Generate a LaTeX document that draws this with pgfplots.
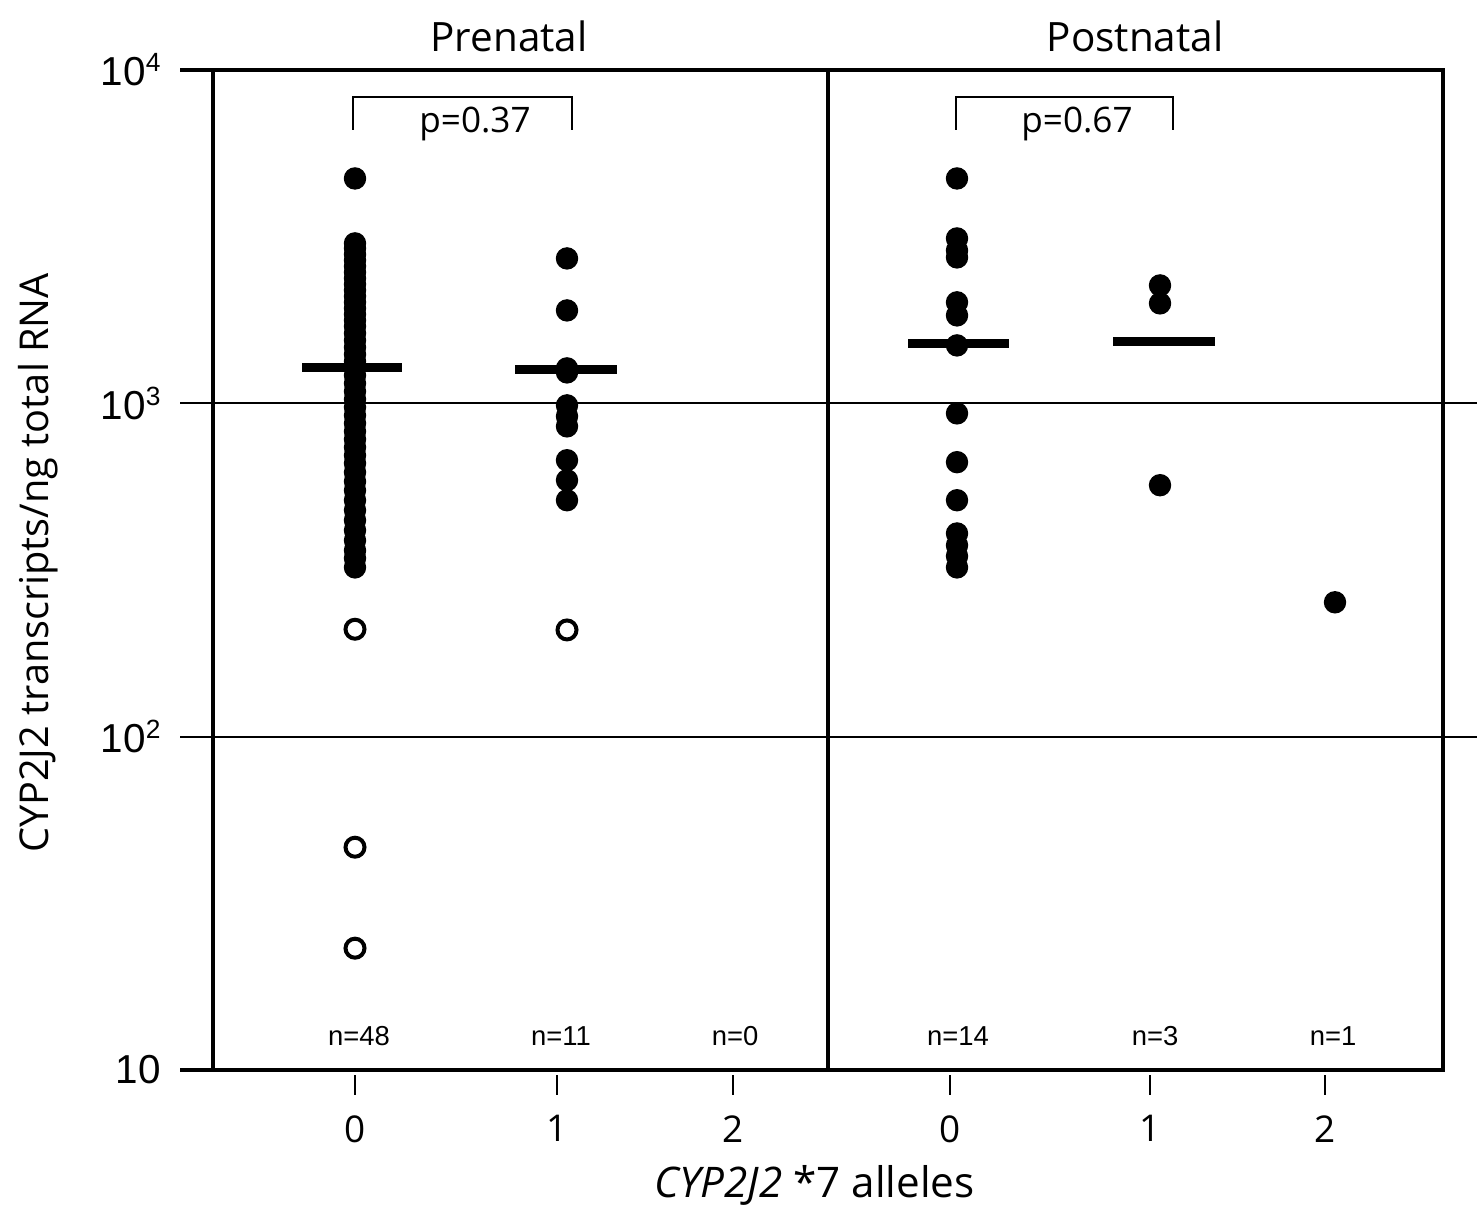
\documentclass[border=0pt]{standalone}
\usepackage{fontspec}
\setmainfont{Open Sans}
\newfontfamily\arial{Liberation Sans}
\usepackage{pgfplots}
\pgfplotsset{compat=1.18}

\newcommand\sups[1]{\raisebox{4pt}{\fontsize{7.5}{8}\selectfont #1}}

\begin{document}
\begin{tikzpicture}[nlab/.style={anchor=base, font=\arial\fontsize{7.8}{9}\selectfont}]
\useasboundingbox (-21.3mm,-14.2mm) rectangle (127.1mm,107mm);
\begin{axis}[
    at={(0,0)}, anchor=south west,
    scale only axis, width=123mm, height=100mm,
    xmin=213, xmax=1443,
    ymode=log, ymin=10, ymax=10000,
    yminorticks=false,
    axis line style={line width=1.15pt},
    clip=false,
    xtick={355,557,733,950,1150,1325},
    xticklabels={0,1,2,0,1,2},
    ytick={10,100,1000,10000},
    yticklabels={10, 10\sups{2}, 10\sups{3}, 10\sups{4}},
    tick align=outside,
    major tick length=3.3mm,
    tick style={draw=none},
    xticklabel style={font=\fontsize{10.5}{12}\selectfont},
    yticklabel style={font=\arial\fontsize{11.5}{13}\selectfont, xshift=-0.7mm},
    xlabel={\textit{CYP2J2} *7 alleles},
    xlabel style={font=\fontsize{12}{14}\selectfont, at={(axis description cs:0.489,0)}, anchor=center, yshift=-11.5mm},
    ylabel={CYP2J2 transcripts/ng total RNA},
    ylabel style={font=\fontsize{11.3}{13}\selectfont, at={(axis description cs:0,0.507)}, anchor=center, yshift=17.5mm},
]
% mean bars
\addplot[line width=0.85mm, black] coordinates {(302,1282) (402,1282)};
\addplot[line width=0.85mm, black] coordinates {(515,1265) (617,1265)};
\addplot[line width=0.85mm, black] coordinates {(908,1513) (1009,1513)};
\addplot[line width=0.85mm, black] coordinates {(1113,1534) (1215,1534)};

% prenatal, 0 alleles
\addplot[only marks, mark=*, mark size=1.05mm, black] coordinates {
    (355,4727) (355,3019) (355,2916) (355,2797) (355,2685) (355,2576)
    (355,2471) (355,2371) (355,2275) (355,2183) (355,2094) (355,2009)
    (355,1927) (355,1849) (355,1774) (355,1702) (355,1622) (355,1545)
    (355,1472) (355,1402) (355,1336) (355,1273) (355,1213) (355,1148)
    (355,1086) (355,1028) (355,973) (355,920) (355,871) (355,824)
    (355,780) (355,738) (355,698) (355,661) (355,621) (355,583)
    (355,548) (355,512) (355,478) (355,446) (355,416) (355,388)
    (355,362) (355,343) (355,322)
};
% prenatal, 1 allele
\addplot[only marks, mark=*, mark size=1.05mm, black] coordinates {
    (567,2721) (567,1900) (567,1273) (567,1238) (567,986)
    (567,914) (567,853) (567,675) (567,588) (567,512)
};
% postnatal, 0 alleles
\addplot[only marks, mark=*, mark size=1.05mm, black] coordinates {
    (957,4727) (957,3124) (957,2876) (957,2740) (957,2009) (957,1836)
    (957,1492) (957,933) (957,666) (957,512) (957,407) (957,375)
    (957,348) (957,322)
};
% postnatal, 1 and 2 alleles
\addplot[only marks, mark=*, mark size=1.05mm, black] coordinates {
    (1160,2258) (1160,1995) (1160,568) (1335,253)
};
% below quantification
\addplot[only marks, mark=o, mark size=0.95mm, black, mark options={line width=0.4mm, fill=white}] coordinates {
    (355,210) (355,46.6) (355,23.2) (567,209)
};

% frame pieces, grid
\draw[line width=1.15pt] (axis cs:828,10) -- (axis cs:828,10000);
\draw[line width=1.15pt] ([xshift=-3.3mm]axis cs:213,10000) -- (axis cs:213,10000);
\draw[line width=1.15pt] ([xshift=-3.3mm]axis cs:213,10) -- (axis cs:213,10);
\draw[line width=0.5pt] ([xshift=-3.3mm]axis cs:213,100) -- (axis cs:1477,100);
\draw[line width=0.5pt] ([xshift=-3.3mm]axis cs:213,1000) -- (axis cs:1477,1000);
\pgfplotsinvokeforeach{355,557,733,950,1150,1325}{
    \draw[line width=0.6pt] ([yshift=-0.5mm]axis cs:#1,10) -- ([yshift=-2.5mm]axis cs:#1,10);
}

% p-value brackets
\draw[line width=0.6pt] ([yshift=-6mm]axis cs:353,10000) -- ([yshift=-2.7mm]axis cs:353,10000)
    -- ([yshift=-2.7mm]axis cs:572,10000) -- ([yshift=-6mm]axis cs:572,10000);
\draw[line width=0.6pt] ([yshift=-6mm]axis cs:956,10000) -- ([yshift=-2.7mm]axis cs:956,10000)
    -- ([yshift=-2.7mm]axis cs:1173,10000) -- ([yshift=-6mm]axis cs:1173,10000);
\node[anchor=base, font=\fontsize{10}{11}\selectfont] at ([yshift=-6.3mm]axis cs:475,10000) {p=0.37};
\node[anchor=base, font=\fontsize{10}{11}\selectfont] at ([yshift=-6.3mm]axis cs:1077,10000) {p=0.67};

% panel titles
\node[anchor=base, font=\fontsize{11.5}{13}\selectfont] at ([yshift=1.8mm]axis cs:509,10000) {Prenatal};
\node[anchor=base, font=\fontsize{11.5}{13}\selectfont] at ([yshift=1.8mm]axis cs:1135,10000) {Postnatal};

% group sizes
\node[nlab] at ([yshift=2.5mm]axis cs:359,10) {n=48};
\node[nlab] at ([yshift=2.5mm]axis cs:561,10) {n=11};
\node[nlab] at ([yshift=2.5mm]axis cs:735,10) {n=0};
\node[nlab] at ([yshift=2.5mm]axis cs:958,10) {n=14};
\node[nlab] at ([yshift=2.5mm]axis cs:1155,10) {n=3};
\node[nlab] at ([yshift=2.5mm]axis cs:1333,10) {n=1};
\end{axis}
\end{tikzpicture}
\end{document}
